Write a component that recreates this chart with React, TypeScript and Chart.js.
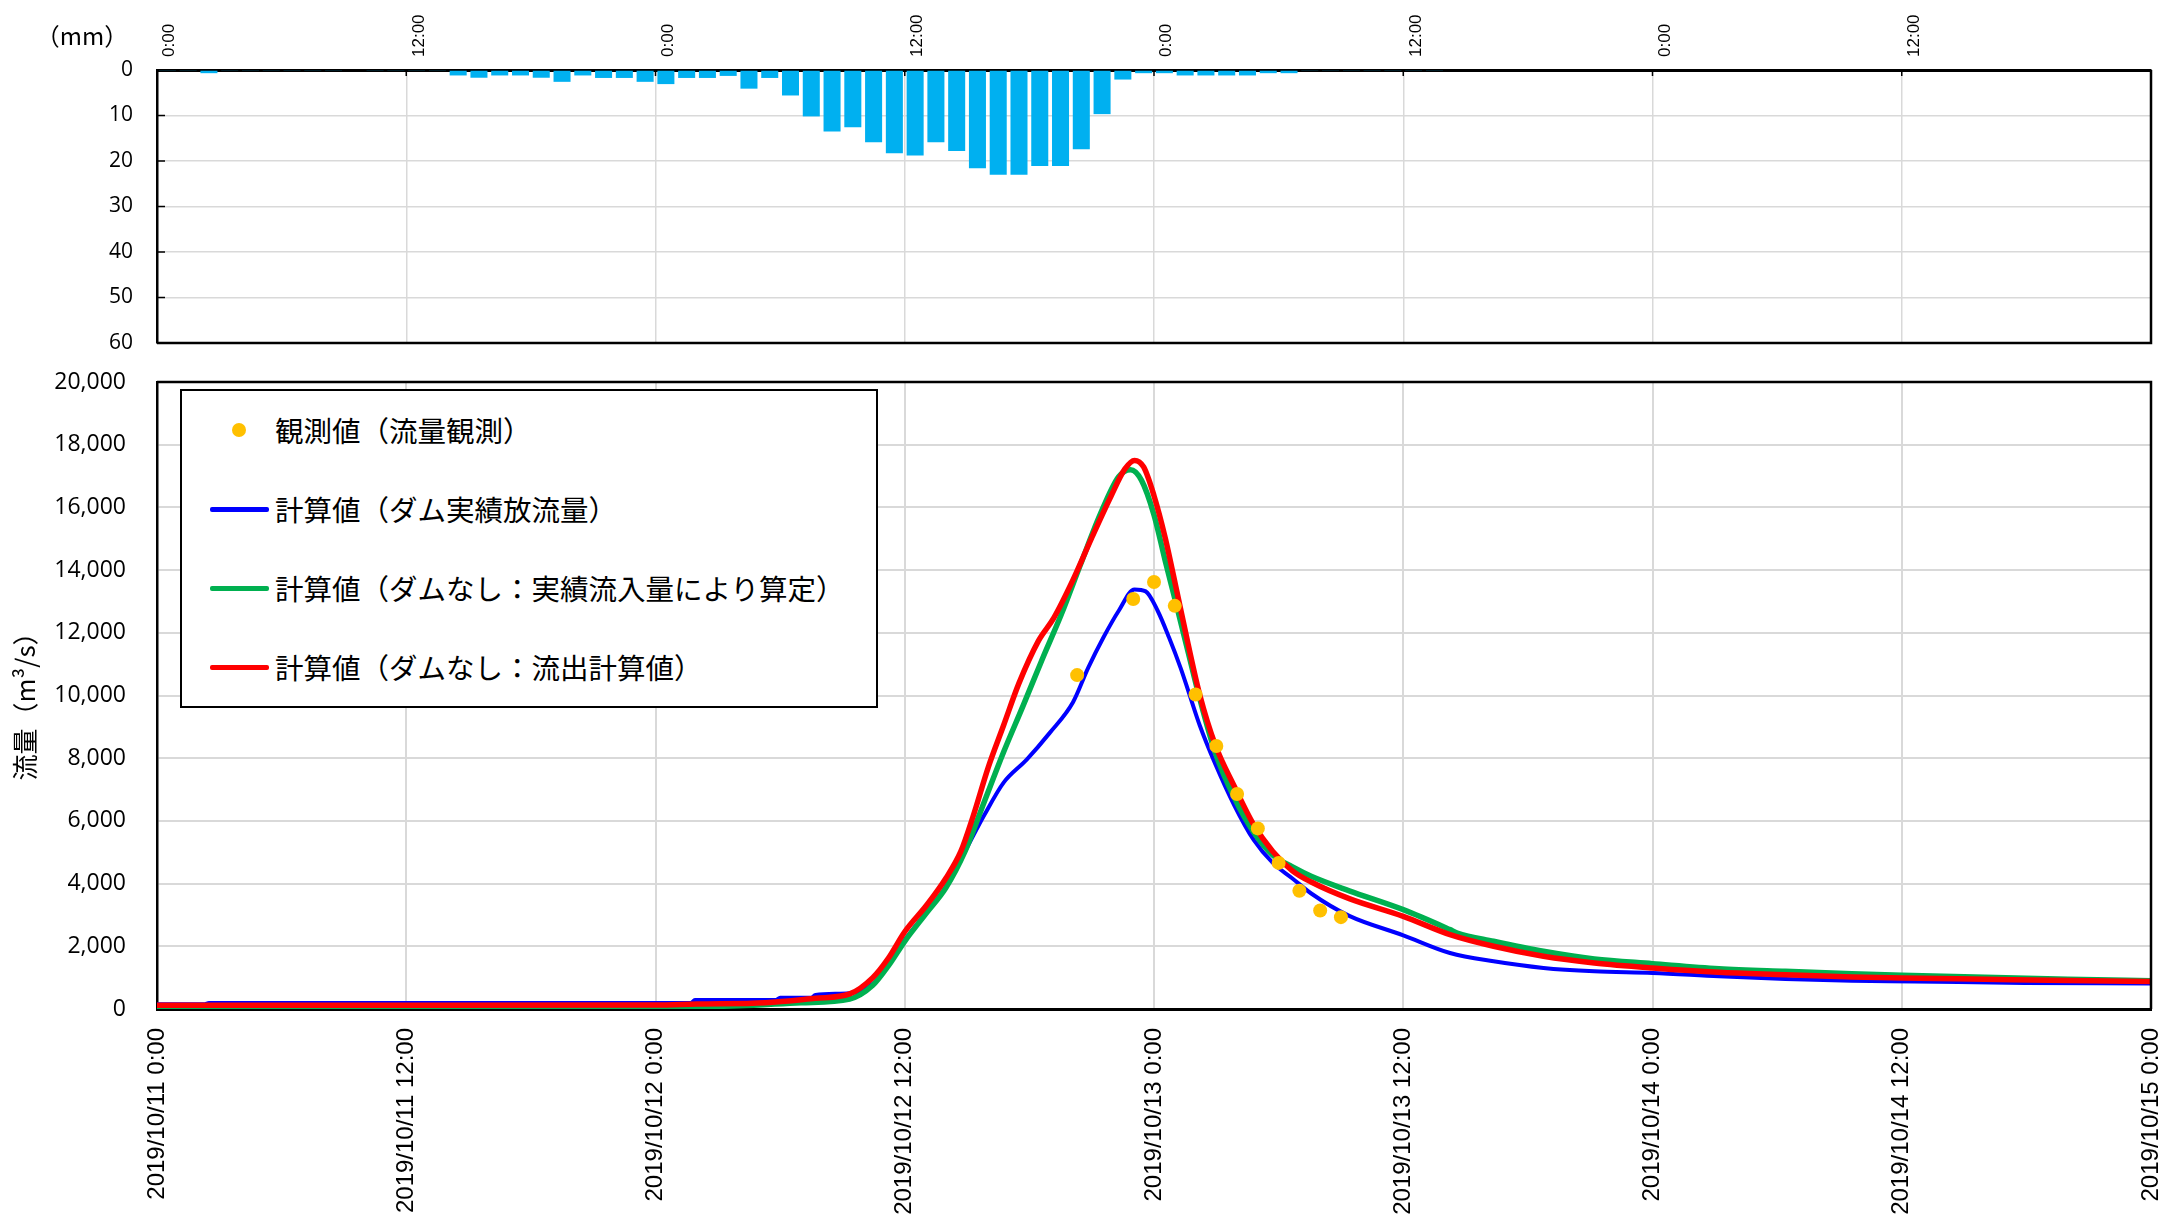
import React, { useEffect, useRef } from 'react';
import { Chart, registerables } from 'chart.js';

Chart.register(...registerables);

// ---------- DATA ----------
// hourly rainfall (mm), hour 0 = 2019/10/11 0:00-1:00
const RAIN_MM = [
  0.2, 0.2, 0.7, 0.2, 0.2, 0.2, 0.2, 0.2, 0.2, 0, 0.2, 0.2,
  0.2, 0.2, 1.2, 1.7, 1.2, 1.2, 1.7, 2.6, 1.2, 1.75, 1.75, 2.6,
  3.1, 1.75, 1.75, 1.3, 4.1, 1.75, 5.6, 10.2, 13.5, 12.6, 15.9, 18.3,
  18.8, 15.9, 17.8, 21.6, 23.0, 23.0, 21.1, 21.1, 17.4, 9.7, 2.1, 0.7,
  0.7, 1.2, 1.2, 1.2, 1.2, 0.7, 0.7, 0.2, 0.2, 0.2, 0.2, 0.2,
  0.2, 0.2, 0, 0, 0, 0, 0, 0, 0, 0, 0, 0,
  0, 0, 0, 0, 0, 0, 0, 0, 0, 0, 0, 0,
  0, 0, 0, 0, 0, 0, 0, 0, 0, 0, 0, 0,
];

// hours since 2019/10/11 0:00
const OBS_HOURS = [44.3, 47, 48, 49, 50, 51, 52, 53, 54, 55, 56, 57];
const OBS_FLOW = [10650, 13080, 13620, 12860, 10030, 8390, 6860, 5760, 4660, 3770, 3140, 2930];

const BLUE_HOURS = [0, 2.3, 2.5, 25.7, 25.9, 29.8, 30, 31.5, 31.7, 33.35, 34.46, 35.2, 36, 37.06, 37.98, 38.9, 39.83, 40.76, 41.87, 42.98, 44.1, 44.83, 45.57, 46.31, 47.06, 47.6, 48.17, 48.72, 49.28, 49.65, 50.2, 50.94, 51.87, 52.8, 53.72, 54.65, 55.57, 57.4, 60, 62.25, 64.35, 66.75, 69.2, 72, 75.2, 78.4, 81.6, 84.6, 89.9, 96];
const BLUE_FLOW = [150, 150, 190, 190, 290, 290, 360, 360, 450, 500, 800, 1400, 2200, 3100, 3900, 5026, 6185, 7222, 7954, 8808, 9784, 10882, 11858, 12712, 13383, 13322, 12712, 11858, 10882, 10150, 9052, 7832, 6490, 5392, 4660, 4172, 3684, 2970, 2351, 1787, 1521, 1309, 1202, 1149, 1043, 957, 904, 880, 829, 815];

const GREEN_HOURS = [0, 24, 28, 31, 33.35, 34.46, 35.2, 36, 37.06, 37.98, 38.9, 39.83, 40.76, 41.69, 42.6, 43.54, 44.46, 45.4, 46.3, 46.87, 47.4, 48, 48.54, 49.1, 49.65, 50.2, 50.94, 51.87, 52.8, 53.72, 54.65, 55.57, 57.4, 60, 62.25, 62.6, 64.35, 66.75, 69.2, 72, 75.2, 78.4, 81.6, 84, 88, 92, 96];
const GREEN_FLOW = [70, 70, 100, 200, 320, 756, 1366, 2160, 3074, 3866, 5026, 6612, 8198, 9662, 11126, 12590, 14176, 15762, 16982, 17200, 16861, 15762, 14298, 12834, 11370, 9906, 8198, 6734, 5636, 4904, 4538, 4233, 3770, 3170, 2532, 2425, 2160, 1840, 1596, 1447, 1287, 1202, 1128, 1080, 1010, 950, 900];

const RED_HOURS = [0, 12, 24, 26, 29.3, 31.7, 33.35, 34.46, 35.2, 36, 37.06, 37.98, 38.7, 39.28, 40.02, 40.76, 41.5, 42.43, 43.17, 44.1, 45, 45.94, 46.6, 47.06, 47.5, 48, 48.54, 49.1, 49.65, 50.2, 50.94, 51.87, 52.8, 53.72, 54.65, 55.57, 57.4, 60, 62.25, 64.35, 66.75, 69.2, 72, 75.2, 78.4, 81.6, 84, 88, 92, 96];
const RED_FLOW = [120, 120, 130, 160, 200, 340, 480, 1000, 1610, 2464, 3318, 4172, 5026, 6124, 7710, 9052, 10394, 11736, 12468, 13688, 15030, 16373, 17227, 17500, 17290, 16373, 15030, 13322, 11614, 10028, 8442, 7100, 5880, 5026, 4416, 4050, 3520, 2957, 2372, 2000, 1681, 1468, 1309, 1170, 1096, 1021, 990, 950, 910, 880];

const TOP_TICK_LABELS = ['0:00', '12:00', '0:00', '12:00', '0:00', '12:00', '0:00', '12:00', ''];
const BOTTOM_TICK_LABELS = [
  '2019/10/11 0:00', '2019/10/11 12:00', '2019/10/12 0:00', '2019/10/12 12:00',
  '2019/10/13 0:00', '2019/10/13 12:00', '2019/10/14 0:00', '2019/10/14 12:00', '2019/10/15 0:00',
];
const RAIN_TICK_LABELS = ['0', '10', '20', '30', '40', '50', '60'];
const FLOW_TICK_LABELS = ['0', '2,000', '4,000', '6,000', '8,000', '10,000', '12,000', '14,000', '16,000', '18,000', '20,000'];

const LEGEND_LABELS = [
  '観測値（流量観測）',
  '計算値（ダム実績放流量）',
  '計算値（ダムなし：実績流入量により算定）',
  '計算値（ダムなし：流出計算値）',
];
const Y_TITLE_FLOW = '流量（m³/s）';
const Y_TITLE_RAIN = '（mm）';

// ---------- STYLE ----------
const W = 2179;
const TOP_H = 360;
const BOT_TOP = 360;
const BOT_H = 863;
const COLORS = { obs: '#ffc000', blue: '#0000ff', green: '#00b050', red: '#ff0000', rain: '#00b0f0' };
const CJK = '"Noto Sans CJK JP", sans-serif';

const pts = (xs: number[], ys: number[]) => xs.map((x, i) => ({ x, y: ys[i] }));
const fitX = (h: number) => (s: any) => {
  s.height = h;
  s.paddingLeft = 0;
  s.paddingRight = 0;
  s.paddingTop = 0;
  s.paddingBottom = 0;
};
const fitY = (s: any) => {
  s.width = 157;
  s.paddingLeft = 0;
  s.paddingRight = 0;
  s.paddingTop = 0;
  s.paddingBottom = 0;
};

const topDeco = {
  id: 'topDeco',
  afterDraw(chart: any) {
    const { ctx, chartArea: a, scales } = chart;
    ctx.save();
    ctx.strokeStyle = '#000';
    ctx.lineWidth = 2.5;
    ctx.beginPath();
    ctx.moveTo(a.right, a.top);
    ctx.lineTo(a.right, a.bottom);
    ctx.lineTo(a.left, a.bottom);
    ctx.stroke();
    ctx.lineWidth = 1.5;
    scales.y.ticks.forEach((t: any) => {
      if (t.value === 0 || t.value === 60) return;
      const p = scales.y.getPixelForValue(t.value);
      ctx.beginPath();
      ctx.moveTo(a.left, p);
      ctx.lineTo(a.left + 8, p);
      ctx.stroke();
    });
    scales.x.ticks.forEach((t: any) => {
      if (t.value === 0 || t.value === 96) return;
      const p = scales.x.getPixelForValue(t.value);
      ctx.beginPath();
      ctx.moveTo(p, a.top);
      ctx.lineTo(p, a.top + 6);
      ctx.stroke();
    });
    ctx.fillStyle = '#000';
    ctx.font = '24px ' + CJK;
    ctx.textAlign = 'center';
    ctx.textBaseline = 'middle';
    ctx.fillText(Y_TITLE_RAIN, 82, 36);
    ctx.restore();
  },
};

const botDeco = {
  id: 'botDeco',
  afterDraw(chart: any) {
    const { ctx, chartArea: a } = chart;
    ctx.save();
    ctx.strokeStyle = '#000';
    ctx.lineWidth = 2.5;
    ctx.beginPath();
    ctx.moveTo(a.left, a.top);
    ctx.lineTo(a.right, a.top);
    ctx.lineTo(a.right, a.bottom);
    ctx.stroke();
    ctx.translate(25, 700 - BOT_TOP);
    ctx.rotate(-Math.PI / 2);
    ctx.fillStyle = '#000';
    ctx.font = '26px ' + CJK;
    ctx.textAlign = 'center';
    ctx.textBaseline = 'middle';
    ctx.fillText(Y_TITLE_FLOW, 0, 0);
    ctx.restore();
  },
};

export default function App() {
  const topRef = useRef<HTMLCanvasElement>(null);
  const botRef = useRef<HTMLCanvasElement>(null);

  useEffect(() => {
    const top = new Chart(topRef.current as HTMLCanvasElement, {
      type: 'bar',
      data: {
        datasets: [
          {
            data: RAIN_MM.map((v, i) => ({ x: i + 0.5, y: v })),
            backgroundColor: COLORS.rain,
            borderWidth: 0,
            categoryPercentage: 1,
            barPercentage: 0.82,
          } as any,
        ],
      },
      options: {
        responsive: false,
        animation: false,
        layout: { padding: { left: 0, right: W - 2151, top: 0, bottom: TOP_H - 343 } },
        plugins: { legend: { display: false }, tooltip: { enabled: false } },
        scales: {
          x: {
            type: 'linear',
            position: 'top',
            offset: false,
            min: 0,
            max: 96,
            ticks: {
              stepSize: 12,
              autoSkip: false,
              maxRotation: 90,
              minRotation: 90,
              padding: 13,
              labelOffset: 33,
              color: '#000',
              font: { family: '"Liberation Sans", Arial, sans-serif', size: 17 },
              callback: (v: any) => TOP_TICK_LABELS[Math.round(Number(v) / 12)] ?? '',
            },
            grid: { color: '#d9d9d9', lineWidth: 1.5, drawTicks: false, offset: false },
            border: { color: '#000', width: 3 },
            afterFit: fitX(70),
          },
          y: {
            reverse: true,
            min: 0,
            max: 60,
            ticks: {
              stepSize: 10,
              padding: 24,
              color: '#000',
              font: { family: '"Open Sans", sans-serif', size: 21 },
              callback: (v: any) => RAIN_TICK_LABELS[Math.round(Number(v) / 10)] ?? '',
            },
            grid: { color: '#d9d9d9', lineWidth: 1.5, drawTicks: false },
            border: { color: '#000', width: 2.5 },
            afterFit: fitY,
          },
        },
      } as any,
      plugins: [topDeco],
    });

    const bot = new Chart(botRef.current as HTMLCanvasElement, {
      type: 'line',
      data: {
        datasets: [
          {
            label: LEGEND_LABELS[0],
            data: pts(OBS_HOURS, OBS_FLOW),
            showLine: false,
            pointRadius: 7,
            pointBackgroundColor: COLORS.obs,
            pointBorderWidth: 0,
          },
          {
            label: LEGEND_LABELS[3],
            data: pts(RED_HOURS, RED_FLOW),
            borderColor: COLORS.red,
            borderWidth: 5.5,
            pointRadius: 0,
            cubicInterpolationMode: 'monotone',
          },
          {
            label: LEGEND_LABELS[2],
            data: pts(GREEN_HOURS, GREEN_FLOW),
            borderColor: COLORS.green,
            borderWidth: 5.5,
            pointRadius: 0,
            cubicInterpolationMode: 'monotone',
          },
          {
            label: LEGEND_LABELS[1],
            data: pts(BLUE_HOURS, BLUE_FLOW),
            borderColor: COLORS.blue,
            borderWidth: 4,
            pointRadius: 0,
            cubicInterpolationMode: 'monotone',
          },
        ] as any,
      },
      options: {
        responsive: false,
        animation: false,
        layout: { padding: { left: 0, right: W - 2151, top: 382 - BOT_TOP, bottom: 0 } },
        plugins: { legend: { display: false }, tooltip: { enabled: false } },
        scales: {
          x: {
            type: 'linear',
            min: 0,
            max: 96,
            ticks: {
              stepSize: 12,
              autoSkip: false,
              maxRotation: 90,
              minRotation: 90,
              padding: 19,
              color: '#000',
              font: { family: '"Liberation Sans", Arial, sans-serif', size: 24 },
              callback: (v: any) => BOTTOM_TICK_LABELS[Math.round(Number(v) / 12)] ?? '',
            },
            grid: { color: '#d9d9d9', lineWidth: 2, drawTicks: false },
            border: { color: '#000', width: 3 },
            afterFit: fitX(BOT_H - (1009 - BOT_TOP)),
          },
          y: {
            min: 0,
            max: 20000,
            ticks: {
              stepSize: 2000,
              padding: 31,
              color: '#000',
              font: { family: '"Open Sans", sans-serif', size: 23 },
              callback: (v: any) => FLOW_TICK_LABELS[Math.round(Number(v) / 2000)] ?? '',
            },
            grid: { color: '#d9d9d9', lineWidth: 2, drawTicks: false },
            border: { color: '#000', width: 2.5 },
            afterFit: fitY,
          },
        },
      } as any,
      plugins: [botDeco],
    });

    return () => {
      top.destroy();
      bot.destroy();
    };
  }, []);

  const rowY = [39, 118, 197, 276];
  const legendColors = [COLORS.obs, COLORS.blue, COLORS.green, COLORS.red];

  return (
    <div style={{ position: 'absolute', left: 0, top: 0, width: W, height: 1223, background: '#fff', overflow: 'hidden' }}>
      <canvas ref={topRef} width={W} height={TOP_H} style={{ position: 'absolute', left: 0, top: 0 }} />
      <canvas ref={botRef} width={W} height={BOT_H} style={{ position: 'absolute', left: 0, top: BOT_TOP }} />
      <div
        style={{
          position: 'absolute',
          left: 180,
          top: 389,
          width: 698,
          height: 319,
          boxSizing: 'border-box',
          border: '2px solid #000',
          background: '#fff',
          fontFamily: CJK,
          fontSize: 28.5,
          color: '#000',
        }}
      >
        {LEGEND_LABELS.map((lab, i) => (
          <div key={i}>
            {i === 0 ? (
              <div
                style={{
                  position: 'absolute',
                  left: 50,
                  top: rowY[i] - 7,
                  width: 14,
                  height: 14,
                  borderRadius: '50%',
                  background: legendColors[i],
                }}
              />
            ) : (
              <div
                style={{
                  position: 'absolute',
                  left: 28,
                  top: rowY[i] - 2,
                  width: 59,
                  height: 4.5,
                  borderRadius: 2,
                  background: legendColors[i],
                }}
              />
            )}
            <div
              style={{
                position: 'absolute',
                left: 93,
                top: rowY[i],
                transform: 'translateY(-50%)',
                lineHeight: 1,
                whiteSpace: 'nowrap',
              }}
            >
              {lab}
            </div>
          </div>
        ))}
      </div>
    </div>
  );
}
